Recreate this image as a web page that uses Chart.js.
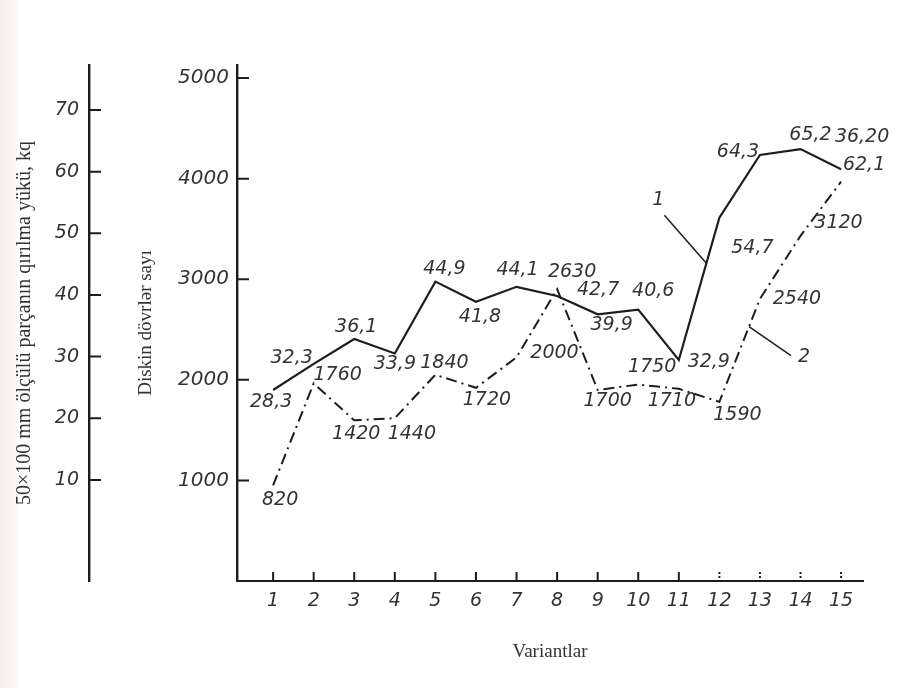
<!DOCTYPE html>
<html>
<head>
<meta charset="utf-8">
<script src="https://cdn.jsdelivr.net/npm/chart.js@4.4.1/dist/chart.umd.min.js"></script>
<style>
  body { margin: 0; background: linear-gradient(to right, #f7ecec 0, #fbf3f3 14px, #fff 20px); }
  canvas { display: block; }
</style>
</head>
<body>
<canvas id="myChart" width="899" height="688"></canvas>
<script>
const variants = [1, 2, 3, 4, 5, 6, 7, 8, 9, 10, 11, 12, 13, 14, 15];
const breakLoad = [28.3, 32.3, 36.1, 33.9, 44.9, 41.8, 44.1, 42.7, 39.9, 40.6, 32.9, 54.7, 64.3, 65.2, 62.1];
const discTurns = [820, 1760, 1420, 1440, 1840, 1720, 2000, 2630, 1700, 1750, 1710, 1590, 2540, 3120, 3620];
const loadTicks = [10, 20, 30, 40, 50, 60, 70];
const turnTicks = [1000, 2000, 3000, 4000, 5000];

// where each printed value sits relative to its point (dx, dy)
const loadLabelPos = [[-2, 12], [-22, -6], [2, -12], [0, 11], [9, -13], [4, 15], [1, -17], [41, -6],
  [14, 11], [15, -19], [30, 2], [33, 30], [-22, -3], [10, -14], [23, -4]];
const turnLabelPos = [[7, 15], [24, -8], [2, 14], [17, 16], [9, -12], [11, 12], [38, -4], [15, -17],
  [10, 11], [14, -17], [-7, 12], [18, 13], [37, 0], [38, -13], [21, -45]];

const ink = '#1d1d1d';
const textInk = '#333';
const numFont = { family: '"DejaVu Sans", sans-serif', style: 'italic', weight: 200, size: 19 };
const serifFamily = '"Liberation Serif", "DejaVu Serif", serif';

const turnText = discTurns.map(String);
turnText[14] = '36,20'; // printed like this in the source figure

function fixWidth(w) {
  return function (scale) { scale.width = w; };
}

const plainTick = v => String(v);

const extras = {
  id: 'extras',
  afterDatasetsDraw(chart) {
    const ctx = chart.ctx;
    const area = chart.chartArea;
    const sx = chart.scales.x, kq = chart.scales.kq, sy = chart.scales.y;
    ctx.save();
    ctx.strokeStyle = ink;
    ctx.lineWidth = 2;

    // inward tick marks
    ctx.beginPath();
    loadTicks.forEach(v => {
      const py = kq.getPixelForValue(v);
      ctx.moveTo(kq.right, py); ctx.lineTo(kq.right + 12, py);
    });
    turnTicks.forEach(v => {
      const py = sy.getPixelForValue(v);
      ctx.moveTo(area.left, py); ctx.lineTo(area.left + 12, py);
    });
    variants.forEach(v => {
      if (v >= 12) return;
      const px = sx.getPixelForValue(v);
      ctx.moveTo(px, area.bottom); ctx.lineTo(px, area.bottom - 9);
    });
    ctx.stroke();
    ctx.fillStyle = ink;
    variants.forEach(v => {
      if (v < 12) return;
      const px = sx.getPixelForValue(v);
      ctx.fillRect(px - 1, area.bottom - 9, 2, 2);
      ctx.fillRect(px - 1, area.bottom - 5, 2, 2);
    });

    // value labels
    ctx.font = Chart.helpers.toFont(numFont).string;
    ctx.fillStyle = textInk;
    ctx.textAlign = 'center';
    ctx.textBaseline = 'middle';
    const m1 = chart.getDatasetMeta(0).data;
    const m2 = chart.getDatasetMeta(1).data;
    m1.forEach((pt, i) => {
      const t = breakLoad[i].toFixed(1).replace('.', ',');
      ctx.fillText(t, pt.x + loadLabelPos[i][0], pt.y + loadLabelPos[i][1]);
    });
    m2.forEach((pt, i) => {
      ctx.fillText(turnText[i], pt.x + turnLabelPos[i][0], pt.y + turnLabelPos[i][1]);
    });

    // curve numbers with leader lines
    ctx.lineWidth = 1.5;
    const a = { x: m1[10].x + (m1[11].x - m1[10].x) * 0.68, y: m1[10].y + (m1[11].y - m1[10].y) * 0.68 };
    const b = { x: m2[11].x + (m2[12].x - m2[11].x) * 0.73, y: m2[11].y + (m2[12].y - m2[11].y) * 0.73 };
    ctx.beginPath();
    ctx.moveTo(a.x, a.y); ctx.lineTo(a.x - 42, a.y - 48);
    ctx.moveTo(b.x, b.y); ctx.lineTo(b.x + 42, b.y + 29);
    ctx.stroke();
    ctx.fillText('1', a.x - 48, a.y - 63);
    ctx.fillText('2', b.x + 55, b.y + 30);
    ctx.restore();
  }
};

const ctx = document.getElementById('myChart').getContext('2d');

const chart = new Chart(ctx, {
  type: 'line',
  data: {
    datasets: [
      {
        label: '1',
        data: variants.map((v, i) => ({ x: v, y: breakLoad[i] })),
        yAxisID: 's1',
        borderColor: ink,
        borderWidth: 2.2,
        pointRadius: 0,
        tension: 0
      },
      {
        label: '2',
        data: variants.map((v, i) => ({ x: v, y: discTurns[i] })),
        yAxisID: 's2',
        borderColor: ink,
        borderWidth: 2,
        borderDash: [11, 5, 2, 5],
        pointRadius: 0,
        tension: 0
      }
    ]
  },
  options: {
    responsive: false,
    animation: false,
    devicePixelRatio: 1,
    layout: { padding: { left: 0, right: 36, top: 65, bottom: 0 } },
    plugins: { legend: { display: false }, tooltip: { enabled: false } },
    scales: {
      x: {
        type: 'linear',
        min: 0.11,
        max: 15.54,
        afterBuildTicks: s => { s.ticks = variants.map(v => ({ value: v })); },
        afterFit: s => { s.height = 107; },
        grid: { display: false, drawTicks: false },
        border: { display: true, color: ink, width: 2 },
        ticks: { color: textInk, font: numFont, padding: 9, maxRotation: 0, autoSkip: false, callback: plainTick },
        title: {
          display: true,
          text: 'Variantlar',
          color: textInk,
          font: { family: serifFamily, size: 19 },
          padding: { top: 0, bottom: 25 }
        }
      },
      kq: {
        axis: 'y',
        position: 'left',
        weight: 2,
        min: -6.4,
        max: 77.3,
        afterBuildTicks: s => { s.ticks = loadTicks.map(v => ({ value: v })); },
        afterFit: fixWidth(89),
        grid: { display: false, drawTicks: false },
        border: { display: true, color: ink, width: 2.4 },
        ticks: { color: textInk, font: numFont, padding: 10, callback: plainTick },
        title: {
          display: true,
          text: '50×100 mm ölçülü parçanın qırılma yükü, kq',
          color: textInk,
          font: { family: serifFamily, size: 20 },
          padding: { top: 13, bottom: 0 }
        }
      },
      y: {
        axis: 'y',
        position: 'left',
        weight: 1,
        min: 0,
        max: 5130,
        afterBuildTicks: s => { s.ticks = turnTicks.map(v => ({ value: v })); },
        afterFit: fixWidth(148),
        grid: { display: false, drawTicks: false },
        border: { display: true, color: ink, width: 2.4 },
        ticks: { color: textInk, font: { ...numFont, size: 20 }, padding: 8, callback: plainTick },
        title: {
          display: true,
          text: 'Diskin dövrlər sayı',
          color: textInk,
          font: { family: serifFamily, size: 19 },
          padding: { top: 46, bottom: 0 }
        }
      },
      s1: { axis: 'y', position: 'left', display: false, min: -0.95, max: 78.07 },
      s2: { axis: 'y', position: 'left', display: false, min: -61, max: 4695 }
    }
  },
  plugins: [extras]
});
</script>
</body>
</html>
